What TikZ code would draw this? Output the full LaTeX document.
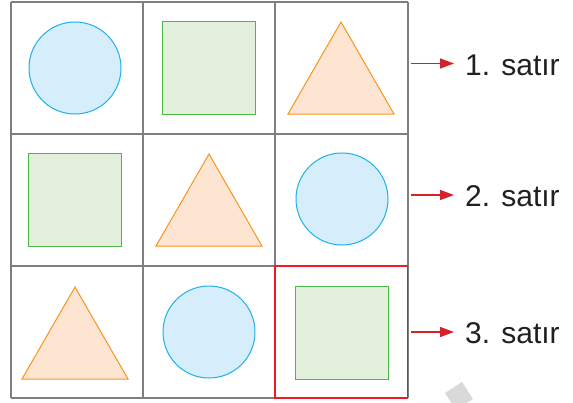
\documentclass[tikz,border=0pt]{standalone}
\usepackage{fontspec}
\setmainfont{Liberation Sans}
\usetikzlibrary{arrows.meta}
\definecolor{gridgray}{HTML}{7F7F7F}
\definecolor{cfill}{HTML}{D6EEFB}
\definecolor{cline}{HTML}{1CB1EA}
\definecolor{sfill}{HTML}{E3F0DC}
\definecolor{sline}{HTML}{4CB848}
\definecolor{tfill}{HTML}{FDE5D2}
\definecolor{tline}{HTML}{F7941D}
\definecolor{hred}{HTML}{ED1C24}
\definecolor{ared}{HTML}{D2232A}
\definecolor{wmark}{HTML}{D9D9D9}
\definecolor{txt}{HTML}{231F20}
\begin{document}
\begin{tikzpicture}[x=1pt,y=-1pt,
  gridline/.style={draw=gridgray,line width=1.4pt},
  circ/.style={draw=cline,fill=cfill,line width=1pt},
  sq/.style={draw=sline,fill=sfill,line width=1pt},
  tri/.style={draw=tline,fill=tfill,line width=1pt,line join=miter},
  rowarrow/.style={draw=ared,line width=1.5pt,-{Triangle[length=14pt,width=10pt]}},
  rowlabel/.style={anchor=west,inner sep=0pt,font=\fontsize{30}{33}\selectfont,text=txt}]
\useasboundingbox (0,0) rectangle (573,402);
% watermark fragment
\begin{scope}
\clip (0,0) rectangle (573,402);
\fill[wmark] (445,393) -- (462,382) -- (473,399) -- (456,410) -- cycle;
\end{scope}
% shapes
\newcommand{\mycirc}[2]{\path[circ] (#1,#2) circle[radius=46];}
\newcommand{\mysq}[2]{\path[sq] (#1-46.5,#2-46.5) rectangle (#1+46.5,#2+46.5);}
\newcommand{\mytri}[2]{\path[tri] (#1,#2-46) -- (#1+53,#2+46) -- (#1-53,#2+46) -- cycle;}
\mycirc{75}{68}
\mysq{209}{67.5}
\mytri{341}{68}
\mysq{74.5}{200}
\mytri{209}{200}
\mycirc{342}{199}
\mytri{75}{333}
\mycirc{209}{332}
\mysq{341.5}{332.5}
% grid
\foreach \x in {11,143,275,408} \draw[gridline] (\x,2) -- (\x,398);
\foreach \y in {2,134,266,398} \draw[gridline] (11,\y) -- (408,\y);
% highlighted cell
\draw[draw=hred,line width=1.8pt] (275,266) rectangle (407.5,398);
% labels and arrows
\coordinate (a1) at (411,63.5);
\coordinate (a2) at (411,195);
\coordinate (a3) at (411,332);
\node[rowlabel] (l1) at (465,65) {1. satır};
\node[rowlabel] (l2) at (465,196) {2. satır};
\node[rowlabel] (l3) at (465,333) {3. satır};
\draw[rowarrow] (a1) -- ([xshift=-11pt]a1 -| l1.west);
\draw[rowarrow] (a2) -- ([xshift=-11pt]a2 -| l2.west);
\draw[rowarrow] (a3) -- ([xshift=-11pt]a3 -| l3.west);
\end{tikzpicture}
\end{document}
